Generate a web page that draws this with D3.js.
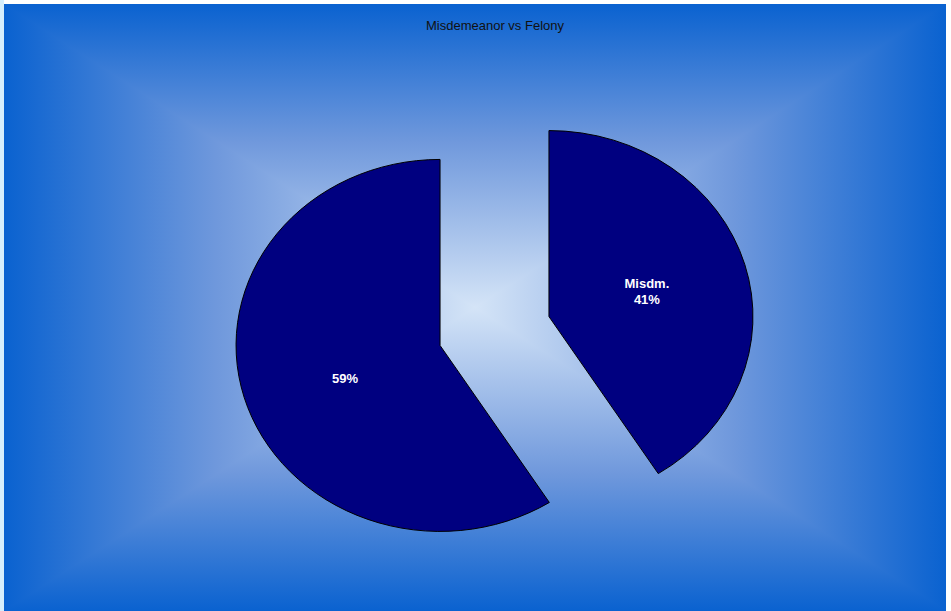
<!DOCTYPE html>
<html><head><meta charset="utf-8">
<script src="https://cdn.jsdelivr.net/npm/d3@7"></script>
<style>html,body{margin:0;padding:0;background:#fff;}svg{display:block;}</style>
</head><body>
<script>
const title = "Misdemeanor vs Felony";
const categories = ["Misdm.", ""];
const values = [41, 59];
const pctLabels = ["41%", "59%"];

const W = 951, H = 611;
const svg = d3.select("body").append("svg").attr("width", W).attr("height", H);
const defs = svg.append("defs");

// plot background with rectangular gradient
const bx0 = 4, by0 = 4, bx1 = 946, by1 = 611;
const cx = (bx0 + bx1) / 2, cy = (by0 + by1) / 2;
const edgeCol = "#0a62d0", midCol = "#6f98dc", centerCol = "#d4e4f7";
function grad(id, x1, y1, x2, y2) {
  const g = defs.append("linearGradient").attr("id", id).attr("gradientUnits", "userSpaceOnUse")
    .attr("x1", x1).attr("y1", y1).attr("x2", x2).attr("y2", y2);
  g.append("stop").attr("offset", 0).attr("stop-color", edgeCol);
  g.append("stop").attr("offset", 0.45).attr("stop-color", midCol);
  g.append("stop").attr("offset", 1).attr("stop-color", centerCol);
}
grad("gT", 0, by0, 0, cy);
grad("gB", 0, by1, 0, cy);
grad("gL", bx0, 0, cx, 0);
grad("gR", bx1, 0, cx, 0);
svg.append("rect").attr("x", 0).attr("y", 0).attr("width", 4).attr("height", H).attr("fill", "#d6eefc");
const e = 2;
const tris = [
  {id: "gT", pts: [[bx0 - e, by0], [bx1 + e, by0], [cx, cy + e]]},
  {id: "gB", pts: [[bx0 - e, by1], [bx1 + e, by1], [cx, cy - e]]},
  {id: "gL", pts: [[bx0, by0], [bx0, by1], [cx, cy]]},
  {id: "gR", pts: [[bx1, by0], [bx1, by1], [cx, cy]]}
];
const bgClip = defs.append("clipPath").attr("id", "bgclip");
bgClip.append("rect").attr("x", bx0).attr("y", by0).attr("width", bx1 - bx0).attr("height", by1 - by0);
const bg = svg.append("g").attr("clip-path", "url(#bgclip)");
bg.selectAll("polygon.bg").data(tris).enter().append("polygon")
  .attr("class", "bg")
  .attr("points", d => d.pts.map(p => p.join(",")).join(" "))
  .attr("fill", d => `url(#${d.id})`);

// title
svg.append("text").attr("x", 495).attr("y", 30).attr("text-anchor", "middle")
  .attr("font-family", "Liberation Sans, Arial, sans-serif").attr("font-size", 13)
  .attr("fill", "#111").text(title);

// pie
const pcx = 494.5, pcy = 331, ry = 186, rx = 204, explode = 0.278;
const sx = rx / ry;
const pie = d3.pie().sort(null).value(d => d)(values);
const arc = d3.arc().innerRadius(0).outerRadius(ry);
const g = svg.append("g").attr("transform", `translate(${pcx},${pcy})`);
pie.forEach((p, i) => {
  const mid = (p.startAngle + p.endAngle) / 2;
  const ox = Math.sin(mid) * ry * explode * sx;
  const oy = -Math.cos(mid) * ry * explode;
  const sg = g.append("g").attr("transform", `translate(${ox},${oy})`);
  sg.append("path").attr("d", arc(p)).attr("transform", `scale(${sx},1)`)
    .attr("fill", "#000080").attr("stroke", "#000").attr("stroke-width", 1)
    .attr("vector-effect", "non-scaling-stroke");
  const lx = Math.sin(mid) * ry * 0.5 * sx;
  const ly = -Math.cos(mid) * ry * 0.5;
  const t = sg.append("text").attr("text-anchor", "middle")
    .attr("font-family", "Liberation Sans, Arial, sans-serif").attr("font-size", 13)
    .attr("font-weight", "bold").attr("fill", "#fff");
  const lines = categories[i] ? [categories[i], pctLabels[i]] : [pctLabels[i]];
  const y0 = ly + (categories[i] ? -3 : 12);
  lines.forEach((s, k) => {
    t.append("tspan").attr("x", lx + (categories[i] ? 0 : 3)).attr("y", y0 + k * 16).text(s);
  });
});
</script>
</body></html>
